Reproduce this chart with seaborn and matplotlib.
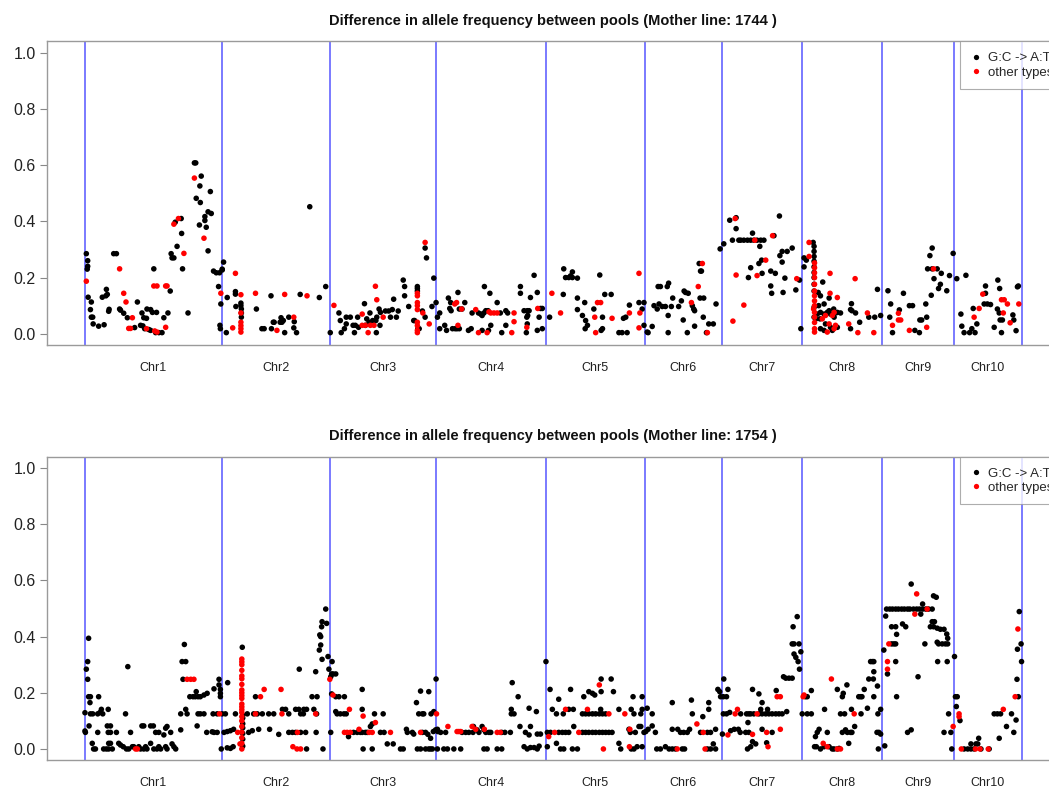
import numpy as np
import pandas as pd
import matplotlib
matplotlib.use("Agg")
import matplotlib.pyplot as plt
import seaborn as sns
from matplotlib.lines import Line2D

# ---------------- data ----------------
chrom_names = [f"Chr{i}" for i in range(1, 11)]
chrom_len_mb = [301, 237, 232, 242, 217, 169, 176, 175, 157, 150]
mother_lines = ["1744", "1754"]
type_labels = ["G:C -> A:T", "other types"]
y_ticks = [0.0, 0.2, 0.4, 0.6, 0.8, 1.0]

# (cumulative genome position in Mb, allele-frequency difference)
m1744_gc = [(4,.285),(7,.26),(7,.24),(6,.23),(8,.13),(15,.113),(13,.086),(15,.059),(18,.059),(19,.035),(31,.027),(43,.032),(39,.13),(47,.135),(50,.14),(48,.158),(53,.08),(54,.087),(64,.285),(70,.285),(77,.088),(79,.084),(86,.073),(94,.057),(110,.022),(116,.113),(126,.074),(130,.057),(136,.055),(123,.03),(128,.028),(132,.018),(141,.015),(145,.012),(137,.088),(145,.086),(149,.076),(152,.231),(158,.076),(156,.004),(163,.004),(170,.004),(174,.057),(183,.074),(188,.152),(190,.285),(192,.27),(196,.27),(199,.397),(212,.41),(213,.357),(203,.311),(215,.231),(227,.074),(241,.608),(244,.608),(256,.561),(253,.526),(276,.506),(245,.482),(254,.467),(271,.434),(278,.428),(264,.417),(264,.403),(252,.387),(267,.379),(271,.295),(283,.223),(289,.217),(296,.217),(302,.23),(305,.255),(294,.168),(299,.106),(297,.03),(298,.018),
    (302,.227),(311,.004),(313,.129),(331,.15),(331,.141),(332,.097),(343,.109),(343,.1),(344,.088),(344,.074),(344,.059),(377,.088),(389,.018),(394,.018),(409,.135),(410,.018),(414,.041),(416,.041),(429,.041),(433,.041),(431,.057),(436,.047),(439,.004),(448,.059),(460,.043),(459,.021),(465,.004),(473,.14),(494,.452),(515,.129),(529,.168),
    (539,.004),(558,.074),(561,.047),(563,.004),(570,.018),(574,.059),(583,.059),(574,.035),(589,.03),(594,.03),(601,.023),(592,.004),(599,.059),(616,.03),(614,.107),(619,.053),(624,.041),(626,.074),(632,.047),(639,.047),(641,.059),(640,.004),(646,.088),(649,.076),(648,.03),(660,.081),(667,.081),(675,.086),(671,.059),(684,.059),(678,.123),(688,.081),(699,.191),(702,.168),(702,.135),(711,.097),(722,.047),(730,.168),(730,.161),(730,.152),(731,.018),(724,.047),(734,.018),(747,.305),(750,.27),(741,.081),(747,.059),(762,.097),(766,.198),
    (771,.111),(774,.059),(779,.074),(779,.018),(790,.03),(794,.012),(798,.127),(803,.111),(801,.09),(804,.082),(807,.018),(813,.018),(817,.018),(822,.018),(819,.147),(822,.088),(828,.088),(834,.111),(842,.012),(848,.018),(850,.074),(864,.074),(869,.07),(872,.065),(876,.074),(872,.012),(877,.168),(880,.082),(885,.082),(886,.012),(891,.03),(889,.144),(905,.111),(912,.074),(915,.004),(924,.082),(928,.074),(924,.03),(956,.168),(956,.144),(964,.082),(971,.082),(975,.082),(970,.059),(972,.065),(971,.035),(969,.004),(978,.129),(986,.208),(993,.147),(1000,.09),(1004,.09),(997,.059),(993,.012),(1004,.018),
    (1020,.059),(1051,.231),(1055,.2),(1062,.2),(1070,.2),(1066,.206),(1070,.22),(1081,.198),(1050,.14),(1081,.127),(1081,.086),(1092,.065),(1097,.111),(1099,.047),(1103,.03),(1098,.018),(1117,.088),(1130,.209),(1133,.012),(1136,.018),(1136,.059),(1141,.14),(1155,.14),(1172,.004),(1179,.004),(1190,.004),(1182,.055),(1187,.059),(1195,.102),(1216,.111),(1227,.111),(1223,.088),(1227,.03),
    (1234,.006),(1236,.004),(1245,.026),(1249,.1),(1256,.088),(1260,.106),(1258,.168),(1263,.168),(1267,.097),(1274,.097),(1287,.097),(1278,.168),(1281,.18),(1280,.065),(1280,.004),(1290,.127),(1303,.097),(1309,.117),(1315,.152),(1318,.147),(1324,.144),(1313,.049),(1322,.004),(1333,.1),(1336,.088),(1338,.082),(1338,.027),(1348,.25),(1351,.223),(1353,.223),(1350,.127),(1358,.127),(1357,.059),(1364,.004),(1369,.035),(1379,.035),(1385,.106),(1394,.302),
    (1402,.32),(1415,.404),(1429,.413),(1429,.374),(1421,.333),(1435,.333),(1439,.333),(1446,.333),(1454,.333),(1461,.333),(1468,.333),(1475,.333),(1483,.333),(1490,.333),(1456,.2),(1461,.235),(1465,.358),(1481,.311),(1479,.25),(1485,.262),(1486,.215),(1505,.223),(1505,.17),(1507,.144),(1512,.349),(1515,.215),(1524,.419),(1525,.278),(1530,.293),(1541,.293),(1552,.305),(1530,.255),(1532,.147),(1536,.198),(1560,.156),(1568,.191),(1571,.018),
    (1578,.27),(1578,.238),(1583,.262),(1598,.325),(1600,.311),(1600,.293),(1600,.275),(1600,.258),(1600,.238),(1600,.218),(1600,.2),(1600,.176),(1600,.152),(1600,.094),(1600,.059),(1607,.07),(1614,.076),(1622,.07),(1629,.076),(1633,.082),(1636,.07),(1651,.076),(1658,.074),(1625,.035),(1636,.023),(1614,.018),(1622,.012),(1640,.012),(1651,.023),(1609,.147),(1614,.135),(1622,.106),(1610,.1),(1619,.184),(1633,.127),(1604,.053),(1613,.053),(1643,.088),(1647,.074),(1644,.059),(1682,.107),(1680,.086),(1683,.082),(1691,.074),(1680,.018),(1700,.041),(1720,.059),(1733,.059),(1739,.158),(1746,.065),
    (1762,.153),(1766,.059),(1768,.106),(1772,.004),(1787,.085),(1796,.144),(1809,.1),(1816,.1),(1821,.012),(1831,.004),(1832,.049),(1836,.049),(1845,.106),(1847,.059),(1849,.231),(1859,.231),(1870,.231),(1854,.278),(1859,.305),(1857,.137),(1863,.196),(1879,.215),(1877,.176),(1873,.161),(1891,.153),(1897,.207),(1905,.286),
    (1913,.196),(1933,.208),(1922,.07),(1924,.027),(1929,.004),(1941,.004),(1946,.018),(1953,.004),(1949,.09),(1957,.035),(1976,.17),(1976,.144),(1973,.106),(1980,.106),(1987,.104),(1995,.023),(2002,.088),(2006,.074),(2003,.191),(2007,.161),(2008,.049),(2013,.049),(2011,.004),(2036,.067),(2038,.049),(2043,.011),(2046,.167),(2048,.17)]

m1744_other = [(4,.187),(77,.231),(86,.144),(91,.113),(97,.019),(101,.019),(105,.057),(136,.018),(152,.17),(159,.17),(154,.01),(159,.006),(178,.023),(178,.17),(181,.17),(196,.39),(206,.41),(218,.286),(241,.554),(262,.34),(299,.144),(325,.021),(331,.215),(343,.139),(343,.074),(343,.041),(343,.029),(343,.018),(343,.006),(375,.144),(422,.012),(439,.14),(459,.059),(488,.135),
    (547,.101),(609,.07),(609,.03),(616,.03),(622,.004),(627,.03),(635,.03),(638,.169),(641,.121),(655,.059),(730,.144),(730,.135),(730,.111),(730,.1),(730,.086),(730,.041),(730,.029),(730,.012),(730,.004),(742,.074),(747,.325),(756,.035),
    (812,.106),(816,.111),(819,.03),(827,.088),(858,.086),(864,.004),(883,.004),(887,.078),(891,.074),(898,.074),(905,.074),(937,.004),(942,.074),(942,.043),(970,.023),(994,.09),
    (1025,.144),(1044,.074),(1119,.059),(1121,.004),(1125,.111),(1132,.111),(1157,.055),(1195,.074),(1216,.215),(1218,.074),(1216,.021),
    (1331,.111),(1346,.168),(1355,.25),(1366,.004),
    (1422,.045),(1427,.41),(1429,.209),(1446,.102),(1470,.333),(1475,.207),(1494,.262),(1509,.349),(1562,.196),
    (1589,.325),(1589,.275),(1601,.252),(1601,.235),(1601,.217),(1601,.2),(1601,.176),(1601,.152),(1601,.135),(1601,.117),(1601,.1),(1601,.076),(1601,.059),(1601,.04),(1601,.018),(1601,.006),(1625,.065),(1644,.076),(1618,.053),(1633,.035),(1644,.018),(1629,.006),(1599,.088),(1635,.215),(1635,.144),(1651,.129),(1640,.065),(1647,.03),(1690,.196),(1676,.035),(1696,.004),(1717,.074),(1731,.004),
    (1772,.03),(1785,.073),(1785,.049),(1790,.049),(1809,.012),(1847,.023),(1862,.231),
    (1951,.059),(1962,.09),(1970,.141),(2011,.121),(2017,.121),(2024,.106),(2015,.074),(2030,.039),(2049,.106)]

m1754_gc = [(1,.064),(2,.059),(1,.129),(4,.284),(7,.311),(9,.394),(7,.248),(9,.186),(13,.186),(12,.165),(13,.125),(18,.125),(10,.082),(17,.02),(20,0),(24,0),(31,.186),(29,.059),(29,.125),(34,.13),(37,.141),(40,.125),(42,0),(48,0),(53,0),(50,.082),(57,.082),(52,.059),(57,.059),(52,.141),(53,.02),(57,.02),(61,0),(70,.059),(75,.02),(79,.014),(85,.008),(90,.125),(95,.293),(92,0),(97,0),(105,.008),(101,.059),(108,.008),(119,.008),(126,.082),(130,.082),(123,0),(130,0),(137,0),(134,.008),(145,.02),(145,.082),(151,.082),(152,0),(159,0),(167,0),(156,.059),(163,.059),(163,.008),(174,.05),(178,.074),(181,.08),(178,.008),(181,0),(189,.059),(192,.018),(196,.008),(200,0),(211,.068),(211,.125),(214,.311),(222,.311),(219,.372),(216,.248),(222,.141),(225,.125),(231,.186),(238,.186),(243,.186),(249,.186),(254,.186),(262,.192),(269,.198),(245,.204),(247,.082),(249,.125),(254,.125),(262,.125),(268,.059),(280,.061),(284,.059),(291,.059),(282,.125),(291,.125),(284,.214),(295,.248),(295,.228),(298,.212),(298,.198),(298,.186),(302,.125),(309,.125),(300,0),
    (314,.236),(306,.059),(313,.062),(320,.065),(327,.07),(313,.004),(320,.002),(326,.008),(331,.125),(346,.362),(347,.12),(347,.11),(347,.09),(347,.075),(347,.055),(347,.035),(347,.01),(360,.059),(368,.065),(357,.125),(371,.125),(379,.125),(390,.125),(375,.186),(382,.07),(404,.125),(415,.125),(406,.07),(426,.052),(434,.141),(441,.141),(448,.125),(448,.059),(456,.059),(463,.059),(474,.059),(463,.141),(470,.141),(481,.141),(487,.141),(471,.284),(474,.125),(480,.125),(485,.059),(487,0),(499,.186),(510,.186),(507,.275),(503,.141),(509,.125),(508,.059),(523,0),(515,.352),(518,.37),(516,.406),(518,.4),(520,.435),(521,.453),(531,.447),(529,.498),(521,.319),(534,.329),(536,.284),(540,.059),
    (543,.311),(542,.267),(545,.267),(551,.267),(540,.257),(542,.196),(551,.186),(558,.186),(570,.186),(551,.133),(554,.125),(561,.125),(569,.125),(574,.125),(579,.044),(590,.059),(598,.059),(605,.059),(609,.059),(609,.212),(609,.141),(611,0),(631,0),(616,.059),(620,.059),(627,.08),(631,.089),(636,.125),(649,.059),(657,.059),(655,.125),(664,.018),(677,.018),(693,0),(699,0),(706,.07),(708,.059),(719,.059),(722,.053),(728,.165),(733,.125),(741,.125),(744,.125),(737,.206),(755,.204),(730,0),(737,0),(748,0),(755,0),(759,0),(741,.059),(748,.059),(753,.052),(759,.038),(760,.125),(766,.133),(771,.249),(774,.07),
    (765,.062),(770,.068),(775,.062),(781,.059),(792,.059),(763,0),(774,0),(788,0),(796,0),(810,0),(825,0),(828,.059),(836,.059),(843,.059),(853,.08),(852,.059),(861,.068),(865,.059),(872,.08),(876,.068),(880,.059),(887,.059),(891,.059),(876,0),(883,0),(915,.059),(922,.059),(934,.059),(905,0),(915,0),(938,.236),(936,.141),(936,.125),(942,.125),(951,.186),(955,.08),(964,.008),(971,0),(967,.059),(975,.05),(975,.145),(978,.08),(978,.005),(986,.005),(993,0),(997,.01),(991,.133),(993,.053),(1000,.053),
    (1012,.311),(1015,.008),(1015,.059),(1022,.059),(1021,.212),(1026,.141),(1035,.02),(1035,.125),(1050,.125),(1040,.177),(1040,.059),(1048,.059),(1055,.059),(1062,.059),(1044,0),(1051,0),(1062,.141),(1072,.141),(1066,.212),(1070,0),(1081,0),(1073,.08),(1092,.059),(1099,.059),(1106,.059),(1114,.059),(1121,.059),(1129,.059),(1136,.059),(1143,.059),(1150,.059),(1157,.059),(1092,.125),(1099,.125),(1106,.125),(1114,.125),(1121,.125),(1129,.125),(1136,.125),(1143,.125),(1095,.186),(1106,.204),(1114,.198),(1119,.192),(1133,.249),(1133,.204),(1132,.141),(1155,.249),(1160,.204),(1172,.141),(1172,.02),(1176,0),(1194,.07),(1197,.059),(1199,0),(1205,0),(1212,.008),(1199,.141),(1205,.125),(1220,.125),(1223,.141),(1203,.186),(1223,.186),(1208,.059),(1216,.08),(1220,.08),(1227,.059),(1231,.062),(1223,.008),(1234,.145),
    (1236,.07),(1245,.125),(1245,.082),(1252,.059),(1255,0),(1263,0),(1274,.008),(1282,0),(1289,0),(1296,0),(1289,.165),(1289,.07),(1301,.07),(1307,.059),(1314,.059),(1322,.059),(1311,0),(1316,0),(1327,.07),(1331,.174),(1333,.125),(1351,.059),(1356,.115),(1366,0),(1373,0),(1384,0),(1366,.059),(1373,.059),(1384,.07),(1369,.165),(1369,.141),(1379,.018),(1389,.212),(1393,.204),(1395,.186),
    (1401,.186),(1408,.186),(1399,.053),(1402,.249),(1411,.212),(1401,.125),(1408,.125),(1415,.13),(1417,.065),(1439,.125),(1425,.07),(1434,.07),(1438,.059),(1452,.125),(1457,.125),(1461,.125),(1468,.125),(1479,.125),(1486,.125),(1494,.125),(1501,.125),(1508,.125),(1516,.125),(1523,.125),(1530,.125),(1455,.094),(1465,.212),(1450,.059),(1457,.059),(1454,0),(1461,.008),(1465,.026),(1472,.018),(1479,.196),(1486,.165),(1483,.141),(1498,.141),(1486,.07),(1496,.022),(1508,.059),(1517,.208),(1540,.133),(1533,.257),(1538,.252),(1545,.252),(1552,.252),(1554,.435),(1563,.471),(1552,.374),(1556,.374),(1567,.374),(1556,.338),(1560,.326),(1565,.311),(1571,.346),(1568,.284),
    (1581,.186),(1585,.186),(1574,.125),(1585,.125),(1594,.125),(1594,.208),(1603,.044),(1607,.059),(1611,.07),(1601,.008),(1605,.008),(1614,0),(1622,.008),(1633,.008),(1640,0),(1644,0),(1651,0),(1655,.002),(1623,.141),(1629,.059),(1651,.212),(1658,.125),(1667,.125),(1662,.186),(1664,.198),(1672,.228),(1662,.059),(1669,.068),(1673,.059),(1680,.059),(1683,.059),(1676,.02),(1682,.141),(1689,.08),(1698,.186),(1702,.186),(1705,.186),(1703,.125),(1710,.212),(1717,.145),(1720,.249),(1730,.249),(1724,.311),(1728,.311),(1731,.311),(1731,.275),(1731,.186),(1739,.224),(1740,.125),(1746,.141),(1738,.059),(1742,.059),(1746,.053),(1741,0),
    (1755,.011),(1753,.352),(1757,.473),(1759,.498),(1766,.498),(1772,.498),(1779,.498),(1785,.498),(1792,.498),(1798,.498),(1805,.498),(1810,.498),(1818,.498),(1825,.498),(1831,.498),(1838,.498),(1845,.498),(1851,.498),(1859,.498),(1761,.267),(1770,.374),(1775,.374),(1779,.374),(1770,.435),(1779,.435),(1781,.408),(1779,.311),(1781,.186),(1794,.445),(1801,.435),(1805,.059),(1813,.068),(1813,.587),(1828,.257),(1834,.48),(1838,.516),(1843,.374),(1855,.435),(1862,.435),(1870,.43),(1877,.426),(1859,.453),(1864,.453),(1862,.545),(1868,.54),(1870,.38),(1873,.374),(1881,.374),(1888,.374),(1893,.374),(1871,.311),(1885,.426),(1891,.409),(1893,.394),(1892,.311),(1895,.125),(1885,.059),(1900,.059),(1902,0),
    (1908,.329),(1910,.186),(1914,.186),(1912,.151),(1920,.101),(1929,0),(1937,0),(1944,0),(1951,0),(1966,0),(1984,0),(1944,.018),(1955,.018),(1959,.018),(1961,.038),(1995,.125),(2002,.125),(2009,.125),(2006,.038),(2022,.08),(2033,.125),(2043,.103),(2038,.059),(2048,.186),(2045,.248),(2046,.355),(2050,.489),(2054,.374),(2055,.311)]

m1754_other = [(112,0),(116,0),(225,.248),(233,.248),(240,.248),(296,.125),(336,.059),(341,.018),
    (345,.32),(345,.31),(345,.3),(345,.28),(345,.26),(345,.25),(345,.23),(345,.21),(345,.2),(345,.19),(345,.18),(345,.16),(345,.15),(345,.14),(345,.13),(345,.115),(345,.1),(345,.08),(345,.06),(345,.04),(345,.02),(345,0),(375,.125),(386,.186),(394,.212),(431,.212),(433,.125),(467,.059),(457,.008),(466,0),(474,0),(507,.125),
    (538,.248),(545,.192),(570,.059),(576,.059),(583,.059),(581,.141),(602,.07),(611,.117),(624,.059),(631,.059),(638,.094),(671,.059),(737,.059),(772,.125),
    (797,.08),(817,.062),(821,.062),(825,.062),(850,.08),(858,.07),(877,.07),(905,.059),(912,.059),
    (1018,.044),(1031,.059),(1055,.141),(1084,.059),(1103,.141),(1129,.228),(1150,.125),(1138,0),(1185,.125),(1196,.07),(1195,.008),
    (1300,0),(1343,.089),(1357,.059),(1361,0),
    (1411,.05),(1427,.125),(1432,.141),(1475,.125),(1465,.052),(1496,.059),(1499,.008),(1519,.186),(1526,.186),(1526,.07),
    (1576,.186),(1578,.192),(1620,.02),(1629,.008),(1638,.249),(1651,0),(1658,0),(1688,.125),
    (1761,.311),(1761,.284),(1764,.374),(1821,.48),(1825,.552),(1848,.498),(1905,.08),
    (1918,.125),(1918,.115),(1923,0),(1954,0),(1964,0),(1982,0),(2015,.141),(2041,.186),(2047,.427)]

# ---------------- style ----------------
sns.set_theme(style="white")
plt.rcParams["font.family"] = ["Liberation Sans", "DejaVu Sans"]

W, H = 1049, 794
fig = plt.figure(figsize=(W / 100, H / 100), dpi=100)

bounds = np.concatenate([[0], np.cumsum(chrom_len_mb)])
total = bounds[-1]
centers = (bounds[:-1] + bounds[1:]) / 2
palette = {type_labels[0]: "black", type_labels[1]: "red"}

panels = [
    (mother_lines[0], m1744_gc, m1744_other, (41.5, 345.0)),
    (mother_lines[1], m1754_gc, m1754_other, (456.8, 760.2)),
]

for line, gc, other, (top_px, bot_px) in panels:
    ax = fig.add_axes([47 / W, 1 - bot_px / H, (1059.5 - 47) / W, (bot_px - top_px) / H])
    for b in bounds:
        ax.axvline(b, color="#7070ff", lw=1.3, zorder=1)
    df = pd.concat([
        pd.DataFrame(gc, columns=["pos", "af"]).assign(type=type_labels[0]),
        pd.DataFrame(other, columns=["pos", "af"]).assign(type=type_labels[1]),
    ], ignore_index=True)
    sns.scatterplot(data=df, x="pos", y="af", hue="type", palette=palette,
                    s=16, linewidth=0, legend=False, ax=ax, zorder=3)
    ax.set_xlim(-0.04 * total, 1.04 * total)
    ax.set_ylim(-0.04, 1.04)
    ax.set_yticks(y_ticks)
    ax.set_yticklabels([f"{v:.1f}" for v in y_ticks])
    ax.set_xticks(centers)
    ax.set_xticklabels(chrom_names)
    ax.tick_params(axis="x", length=0, pad=12, labelsize=9, labelcolor="#222222")
    ax.tick_params(axis="y", length=5, width=0.8, color="#888888", pad=3,
                   labelsize=11.5, labelcolor="#222222", left=True)
    ax.set_xlabel("")
    ax.set_ylabel("")
    for sp in ax.spines.values():
        sp.set_color("#9a9a9a")
        sp.set_linewidth(1.0)
    ax.set_title(f"Difference in allele frequency between pools (Mother line: {line} )",
                 fontsize=10.5, fontweight="bold", pad=12, color="#111111")
    handles = [Line2D([0], [0], marker="o", linestyle="", markersize=3.8,
                      markerfacecolor=palette[t], markeredgewidth=0, label=t)
               for t in type_labels]
    leg = ax.legend(handles=handles, loc="upper right",
                    bbox_to_anchor=(1 + 4.5 / 1012.5, 1),
                    borderaxespad=0, fontsize=9.5, frameon=True, fancybox=False,
                    handlelength=0.7, handletextpad=0.6, borderpad=0.8,
                    labelspacing=0.15)
    leg.get_frame().set_edgecolor("#999999")
    leg.get_frame().set_linewidth(0.8)

fig.savefig("out.png", dpi=100)
